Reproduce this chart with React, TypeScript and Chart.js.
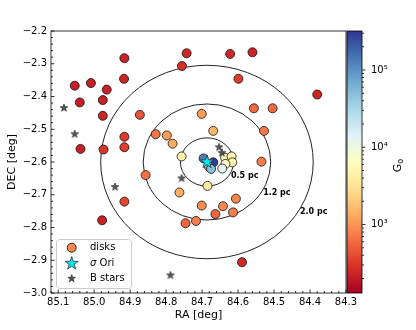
import React, { useEffect, useRef } from 'react';
import { Chart, registerables } from 'chart.js';
Chart.register(...registerables);

// ---------------- data ----------------
const diskRA = [84.743, 84.756, 84.916, 84.917, 85.054, 85.009, 84.965, 85.040, 84.976, 84.976,
  84.873, 85.038, 84.974, 84.916, 84.916, 84.829, 84.798, 84.782, 84.757, 84.701,
  84.622, 84.560, 84.599, 84.380, 84.556, 84.504, 84.669, 84.528, 84.535, 84.857,
  84.916, 84.978, 84.763, 84.701, 84.746, 84.717, 84.685, 84.589, 84.642, 84.663,
  84.614, 84.606, 84.636, 84.618, 84.616, 84.635, 84.644, 84.696, 84.669, 84.681, 84.675];
const diskDEC = [-2.268, -2.307, -2.283, -2.346, -2.367, -2.359, -2.379, -2.418, -2.411, -2.459,
  -2.456, -2.560, -2.562, -2.523, -2.555, -2.515, -2.519, -2.544, -2.583, -2.453,
  -2.270, -2.265, -2.346, -2.394, -2.436, -2.436, -2.505, -2.505, -2.599, -2.640,
  -2.721, -2.778, -2.693, -2.733, -2.787, -2.780, -2.673, -2.906, -2.735, -2.759,
  -2.754, -2.712, -2.587, -2.583, -2.601, -2.606, -2.620, -2.589, -2.601, -2.614, -2.621];
const diskG0 = [250, 280, 230, 240, 210, 215, 225, 210, 225, 235,
  450, 215, 300, 330, 340, 700, 1100, 1300, 4500, 1100,
  250, 235, 330, 235, 600, 600, 1500, 700, 750, 650,
  380, 225, 1400, 900, 550, 750, 4000, 250, 850, 550,
  750, 850, 6000, 5000, 5500, 7000, 13000, 130000, 300000, 60000, 50000];
const bStarRA = [85.084, 85.054, 84.942, 84.788, 84.757, 84.653, 84.645];
const bStarDEC = [-2.435, -2.515, -2.676, -2.946, -2.650, -2.555, -2.572];
const sigmaOriRA = [84.6865];
const sigmaOriDEC = [-2.6];
const ringRadiusPc = [0.5, 1.2, 2.0];
const ringLabels = ['0.5 pc', '1.2 pc', '2.0 pc'];
const DIST_PC = 388;
const xTicks = [85.1, 85.0, 84.9, 84.8, 84.7, 84.6, 84.5, 84.4, 84.3];
const yTicks = [-3.0, -2.9, -2.8, -2.7, -2.6, -2.5, -2.4, -2.3, -2.2];
const cbTicks = [1e3, 1e4, 1e5];
const cbTickLabels = ['10\u00B3', '10\u2074', '10\u2075'];
const legendLabels = ['disks', 'Ori', 'B stars'];
const X_MIN = 84.3, X_MAX = 85.12, Y_MIN = -3.0, Y_MAX = -2.2;
const G0_MIN = 130, G0_MAX = 3.2e5;

// ---------------- helpers ----------------
const FONT = 'DejaVu Sans';
const RDYLBU = ['#a50026', '#d73027', '#f46d43', '#fdae61', '#fee090', '#ffffbf',
  '#e0f3f8', '#abd9e9', '#74add1', '#4575b4', '#313695'];
function hexToRgb(h: string) {
  return [parseInt(h.slice(1, 3), 16), parseInt(h.slice(3, 5), 16), parseInt(h.slice(5, 7), 16)];
}
function cmap(t: number) {
  t = Math.max(0, Math.min(1, t));
  const f = t * (RDYLBU.length - 1);
  const i = Math.min(RDYLBU.length - 2, Math.floor(f));
  const u = f - i;
  const a = hexToRgb(RDYLBU[i]), b = hexToRgb(RDYLBU[i + 1]);
  const c = a.map((v, k) => Math.round(v + (b[k] - v) * u));
  return `rgb(${c[0]},${c[1]},${c[2]})`;
}
function g0ToT(g: number) {
  return (Math.log10(g) - Math.log10(G0_MIN)) / (Math.log10(G0_MAX) - Math.log10(G0_MIN));
}
function makeStar(outer: number, fill: string, stroke: string, lw: number) {
  const size = Math.ceil(outer * 2 + lw * 2 + 2);
  const c = document.createElement('canvas');
  c.width = size; c.height = size;
  const g = c.getContext('2d')!;
  drawStar(g, size / 2, size / 2, outer, fill, stroke, lw);
  return c;
}
function drawStar(g: CanvasRenderingContext2D, cx: number, cy: number, outer: number, fill: string, stroke: string, lw: number) {
  const inner = outer * 0.382;
  g.beginPath();
  for (let k = 0; k < 10; k++) {
    const r = k % 2 === 0 ? outer : inner;
    const a = -Math.PI / 2 + (k * Math.PI) / 5;
    const px = cx + r * Math.cos(a), py = cy + r * Math.sin(a);
    if (k === 0) g.moveTo(px, py); else g.lineTo(px, py);
  }
  g.closePath();
  g.fillStyle = fill; g.fill();
  g.lineWidth = lw; g.strokeStyle = stroke; g.lineJoin = 'miter'; g.stroke();
}
const fmt1 = (v: number) => (v < 0 ? '\u2212' : '') + Math.abs(v).toFixed(1);

const decor = {
  id: 'decor',
  beforeDatasetsDraw(chart: any) {
    const { ctx, chartArea: a, scales } = chart;
    const x = scales.x, y = scales.y;
    const cx = x.getPixelForValue(sigmaOriRA[0]);
    const cy = y.getPixelForValue(sigmaOriDEC[0]);
    ctx.save();
    ctx.beginPath(); ctx.rect(a.left, a.top, a.right - a.left, a.bottom - a.top); ctx.clip();
    ctx.strokeStyle = '#222'; ctx.lineWidth = 1;
    ringRadiusPc.forEach((pc, i) => {
      const rDeg = (pc / DIST_PC) * 180 / Math.PI;
      const rx = Math.abs(x.getPixelForValue(sigmaOriRA[0] + rDeg) - cx);
      const ry = Math.abs(y.getPixelForValue(sigmaOriDEC[0] + rDeg) - cy);
      ctx.beginPath(); ctx.ellipse(cx, cy, rx, ry, 0, 0, Math.PI * 2); ctx.stroke();
      ctx.fillStyle = '#000';
      ctx.font = `bold 8px ${FONT}`;
      ctx.textAlign = 'left'; ctx.textBaseline = 'middle';
      ctx.fillText(ringLabels[i], cx + rx * 0.866 + 1, cy + ry * 0.5 + 1.5);
    });
    ctx.restore();
  },
  afterDatasetsDraw(chart: any) {
    const { ctx, chartArea: a, scales } = chart;
    const x = scales.x, y = scales.y, cb = scales.cb;
    ctx.save();
    // spines
    ctx.strokeStyle = '#000'; ctx.lineWidth = 0.8;
    ctx.strokeRect(a.left, a.top, a.right - a.left, a.bottom - a.top);
    // inward ticks
    ctx.beginPath();
    for (let k = 0; k <= 41; k++) {
      const v = X_MIN + k * 0.02;
      const px = x.getPixelForValue(v);
      const len = k % 5 === 0 ? 3.5 : 2;
      ctx.moveTo(px, a.bottom); ctx.lineTo(px, a.bottom - len);
    }
    for (let k = 0; k <= 40; k++) {
      const v = Y_MIN + k * 0.02;
      const py = y.getPixelForValue(v);
      const len = k % 5 === 0 ? 3.5 : 2;
      ctx.moveTo(a.left, py); ctx.lineTo(a.left + len, py);
    }
    ctx.stroke();

    // colorbar
    const cbL = cb.left + 1, cbR = cb.left + 16;
    const top = cb.getPixelForValue(G0_MAX), bot = cb.getPixelForValue(G0_MIN);
    const grad = ctx.createLinearGradient(0, bot, 0, top);
    for (let i = 0; i <= 40; i++) grad.addColorStop(i / 40, cmap(i / 40));
    ctx.fillStyle = grad;
    ctx.fillRect(cbL, top, cbR - cbL, bot - top);
    ctx.strokeStyle = '#000'; ctx.lineWidth = 0.8;
    ctx.strokeRect(cbL, top, cbR - cbL, bot - top);
    ctx.beginPath();
    for (let e = 2; e <= 5; e++) {
      for (let m = 1; m <= 9; m++) {
        const v = m * Math.pow(10, e);
        if (v < G0_MIN || v > G0_MAX) continue;
        const py = cb.getPixelForValue(v);
        const len = m === 1 ? 3.5 : 2;
        ctx.moveTo(cbR, py); ctx.lineTo(cbR + len, py);
      }
    }
    ctx.stroke();
    // colorbar title G_o
    ctx.save();
    ctx.translate(398, (top + bot) / 2 + 3);
    ctx.rotate(-Math.PI / 2);
    ctx.fillStyle = '#000';
    ctx.textBaseline = 'middle'; ctx.textAlign = 'left';
    ctx.font = `11px ${FONT}`;
    const gw = ctx.measureText('G').width;
    ctx.fillText('G', -gw / 2 - 3, 0);
    ctx.font = `8px ${FONT}`;
    ctx.fillText('o', gw / 2 - 3, 3);
    ctx.restore();

    // legend
    const lx = 56.5, ly = 239.5, lw = 75, lh = 49;
    ctx.beginPath();
    ctx.roundRect(lx, ly, lw, lh, 3);
    ctx.fillStyle = 'rgba(255,255,255,0.8)'; ctx.fill();
    ctx.strokeStyle = '#cccccc'; ctx.lineWidth = 1; ctx.stroke();
    const mx = 71.7;
    const rows = [247.7, 263, 278.3];
    ctx.beginPath(); ctx.arc(mx, rows[0], 4.5, 0, Math.PI * 2);
    ctx.fillStyle = '#f88a50'; ctx.fill();
    ctx.strokeStyle = '#000'; ctx.lineWidth = 0.8; ctx.stroke();
    drawStar(ctx, mx, rows[1] + 0.5, 7, '#00e8f0', '#333', 0.8);
    drawStar(ctx, mx, rows[2] + 0.3, 4, '#5a5a5a', '#222', 0.7);
    ctx.fillStyle = '#000'; ctx.textAlign = 'left'; ctx.textBaseline = 'middle';
    ctx.font = `10px ${FONT}`;
    ctx.fillText(legendLabels[0], 90, rows[0]);
    ctx.font = `italic 10px ${FONT}`;
    ctx.fillText('\u03C3', 90, rows[1]);
    const sw = ctx.measureText('\u03C3 ').width;
    ctx.font = `10px ${FONT}`;
    ctx.fillText(legendLabels[1], 90 + sw, rows[1]);
    ctx.fillText(legendLabels[2], 90, rows[2]);
    ctx.restore();
  },
};

export default function App() {
  const ref = useRef<HTMLCanvasElement>(null);
  useEffect(() => {
    Chart.defaults.font.family = FONT;
    Chart.defaults.color = '#000';
    const sigmaStar = makeStar(7, '#00e8f0', '#333', 0.8);
    const bStar = makeStar(4, '#5a5a5a', '#222', 0.7);
    const chart = new Chart(ref.current!, {
      type: 'scatter',
      data: {
        datasets: [
          {
            label: 'sigma Ori',
            data: sigmaOriRA.map((v, i) => ({ x: v, y: sigmaOriDEC[i] })),
            pointStyle: sigmaStar as any,
            order: 0,
          },
          {
            label: 'B stars',
            data: bStarRA.map((v, i) => ({ x: v, y: bStarDEC[i] })),
            pointStyle: bStar as any,
            order: 1,
          },
          {
            label: 'disks',
            data: diskRA.map((v, i) => ({ x: v, y: diskDEC[i] })),
            pointRadius: 4.5,
            backgroundColor: diskG0.map((g) => cmap(g0ToT(g))),
            borderColor: '#111',
            borderWidth: 0.8,
            order: 2,
          },
        ],
      },
      options: {
        animation: false,
        responsive: false,
        devicePixelRatio: 1,
        events: [],
        layout: { padding: { top: 12, left: 0, right: 0, bottom: 0 } },
        plugins: { legend: { display: false }, tooltip: { enabled: false } },
        scales: {
          x: {
            type: 'linear', reverse: true, min: X_MIN, max: X_MAX,
            afterBuildTicks: (s: any) => { s.ticks = xTicks.map((v) => ({ value: v })); },
            afterFit: (s: any) => { s.height = 37; },
            grid: { display: false, drawTicks: false },
            border: { display: false },
            ticks: { autoSkip: false, maxRotation: 0, padding: 3, font: { size: 10 }, color: '#000', callback: (v: any) => fmt1(Number(v)) },
            title: { display: true, text: 'RA [deg]', font: { size: 11 }, color: '#000', padding: { top: 0, bottom: 8 } },
          },
          y: {
            type: 'linear', min: Y_MIN, max: Y_MAX,
            afterBuildTicks: (s: any) => { s.ticks = yTicks.map((v) => ({ value: v })); },
            afterFit: (s: any) => { s.width = 51; },
            grid: { display: false, drawTicks: false },
            border: { display: false },
            ticks: { autoSkip: false, padding: 4, font: { size: 10 }, color: '#000', callback: (v: any) => fmt1(Number(v)) },
            title: { display: true, text: 'DEC [deg]', font: { size: 11 }, color: '#000', padding: { top: 6, bottom: 0 } },
          },
          cb: {
            type: 'logarithmic', position: 'right', min: G0_MIN, max: G0_MAX,
            afterBuildTicks: (s: any) => { s.ticks = cbTicks.map((v) => ({ value: v })); },
            afterFit: (s: any) => { s.width = 70; },
            grid: { display: false, drawTicks: false },
            border: { display: false },
            ticks: { autoSkip: false, padding: 25, font: { size: 10 }, color: '#000', callback: (_v: any, i: number) => cbTickLabels[i] },
          },
        },
      },
      plugins: [decor],
    } as any);
    return () => chart.destroy();
  }, []);
  return (
    <div style={{ position: 'absolute', left: 0, top: 0, width: 416, height: 330, background: '#fff' }}>
      <canvas ref={ref} width={416} height={330} style={{ display: 'block' }} />
    </div>
  );
}
